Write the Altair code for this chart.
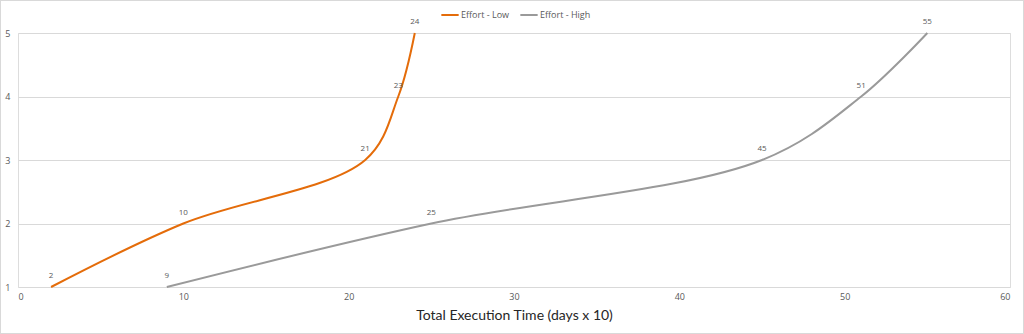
import altair as alt
import pandas as pd

series_names = ["Effort - Low", "Effort - High"]
low_x = [2, 10, 21, 23, 24]
low_y = [1, 2, 3, 4, 5]
high_x = [9, 25, 45, 51, 55]
high_y = [1, 2, 3, 4, 5]
colors = ["#E46C0A", "#9A9A9A"]

rows = []
for i, (x, y) in enumerate(zip(low_x, low_y)):
    rows.append({"series": series_names[0], "x": x, "y": y, "order": i})
for i, (x, y) in enumerate(zip(high_x, high_y)):
    rows.append({"series": series_names[1], "x": x, "y": y, "order": i})
df = pd.DataFrame(rows)

W, H = 992, 254

xenc = alt.X("x:Q", scale=alt.Scale(domain=[0, 60], nice=False, zero=False),
             axis=alt.Axis(values=[0, 10, 20, 30, 40, 50, 60], grid=False, domain=False, ticks=False,
                           format="d",
                           labelFontSize=9, labelColor="#595959", labelFont="Open Sans", labelPadding=5,
                           title="Total Execution Time (days x 10)", titleFont="Lato", titleFontSize=14,
                           titleFontWeight="normal", titleColor="#262626", titlePadding=7))
yenc = alt.Y("y:Q", scale=alt.Scale(domain=[1, 5], nice=False, zero=False),
             axis=alt.Axis(values=[1, 2, 3, 4, 5], grid=True, gridColor="#D9D9D9", domain=False, ticks=False,
                           format="d",
                           labelFontSize=9, labelColor="#595959", labelFont="Open Sans", labelPadding=8,
                           title=None))
color = alt.Color("series:N", scale=alt.Scale(domain=series_names, range=colors),
                  legend=alt.Legend(orient="none", legendX=422, legendY=-28, direction="horizontal",
                                    title=None, symbolType="stroke", symbolStrokeWidth=2, symbolSize=300,
                                    labelFont="Open Sans", labelFontSize=9, labelColor="#595959",
                                    labelOffset=1, columnPadding=6, symbolOffset=0))

lines = alt.Chart(df).mark_line(interpolate="catmull-rom", strokeWidth=2).encode(
    x=xenc, y=yenc, color=color, order="order:Q")

labels = alt.Chart(df).mark_text(dy=-11, fontSize=8, color="#595959", font="Open Sans").encode(
    x="x:Q", y="y:Q", text="x:Q")

border = alt.Chart(df).mark_rect(fill=None, stroke="#D9D9D9", strokeWidth=1).encode(
    x=alt.value(-17.5), x2=alt.value(1005.5), y=alt.value(-32.5), y2=alt.value(300.5))

chart = alt.layer(lines, labels, border).properties(
    width=W, height=H,
    autosize=alt.AutoSizeParams(type="none"),
    padding={"left": 18, "top": 33, "right": 14, "bottom": 47},
).configure_view(stroke=None).configure(background="white")

chart.save("out.html", embed_options={"renderer": "svg", "actions": False})
